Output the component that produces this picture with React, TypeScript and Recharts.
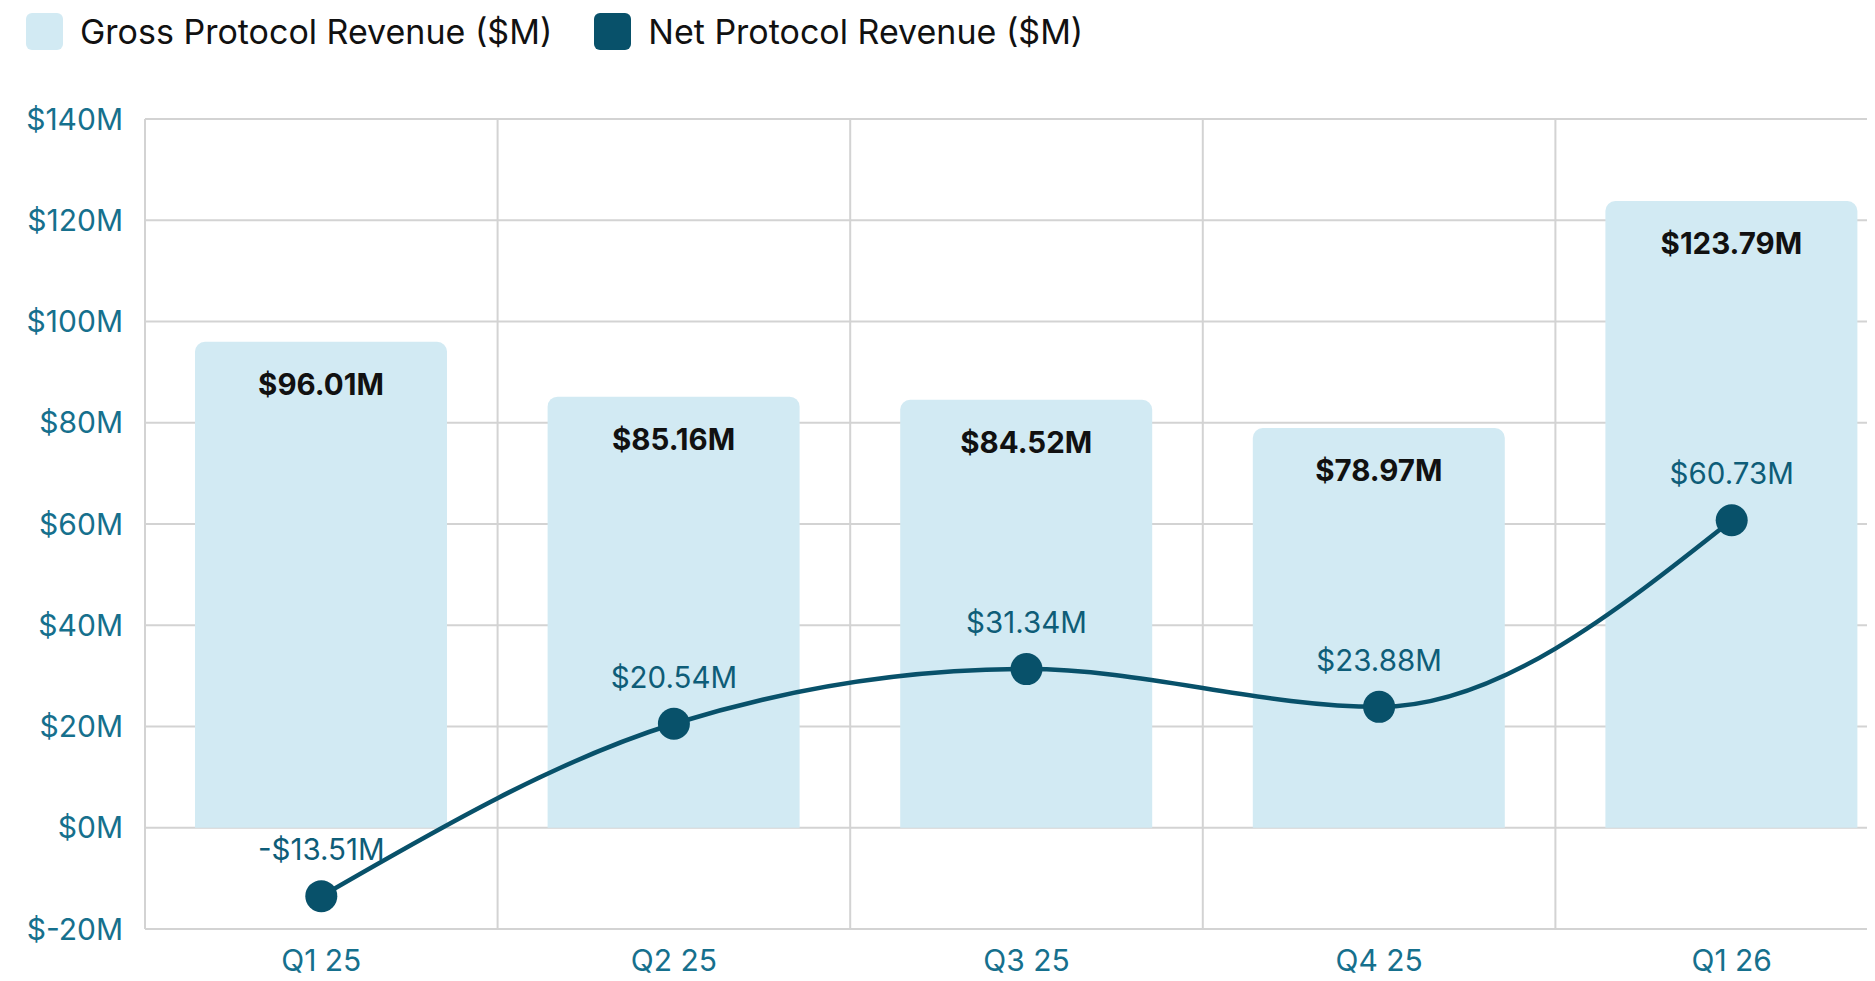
import React from 'react'
import {
  ComposedChart,
  Bar,
  Line,
  XAxis,
  YAxis,
  CartesianGrid,
  Legend,
  LabelList,
} from 'recharts'

const quarters = ['Q1 25', 'Q2 25', 'Q3 25', 'Q4 25', 'Q1 26']
const grossRevenue = [96.01, 85.16, 84.52, 78.97, 123.79]
const netRevenue = [-13.51, 20.54, 31.34, 23.88, 60.73]
const yTicks = [-20, 0, 20, 40, 60, 80, 100, 120, 140]

const GROSS_COLOR = '#d2eaf3'
const NET_COLOR = '#08516a'
const TICK_COLOR = '#16708d'
const GRID_COLOR = '#d3d3d3'
const FONT = 'Inter, "Noto Sans", sans-serif'

const data = quarters.map((q, i) => ({
  name: q,
  gross: grossRevenue[i],
  net: netRevenue[i],
}))

const fmtMoney = (v: number) =>
  v < 0 ? `-$${Math.abs(v).toFixed(2)}M` : `$${v.toFixed(2)}M`

const GrossLabel = (props: any) => {
  const { x, y, width, value } = props
  return (
    <text
      x={x + width / 2}
      y={y + 42}
      textAnchor="middle"
      dominantBaseline="central"
      fontSize={29.5}
      fontWeight={700}
      fill="#111"
      fontFamily={FONT}
    >
      {fmtMoney(value)}
    </text>
  )
}

const NetLabel = (props: any) => {
  const { x, y, value } = props
  return (
    <text
      x={x}
      y={y - 47}
      textAnchor="middle"
      dominantBaseline="central"
      fontSize={29.5}
      fill="#0e5d78"
      fontFamily={FONT}
    >
      {fmtMoney(value)}
    </text>
  )
}

const LegendContent = () => {
  const items = [
    { label: 'Gross Protocol Revenue ($M)', color: GROSS_COLOR },
    { label: 'Net Protocol Revenue ($M)', color: NET_COLOR },
  ]
  return (
    <div
      style={{
        display: 'flex',
        alignItems: 'center',
        height: 60,
        paddingLeft: 18,
        paddingBottom: 13,
        boxSizing: 'border-box',
        fontFamily: FONT,
        fontSize: 34,
        color: '#111',
      }}
    >
      {items.map((it) => (
        <div key={it.label} style={{ display: 'flex', alignItems: 'center', marginRight: 42 }}>
          <span
            style={{
              width: 37,
              height: 37,
              borderRadius: 6,
              background: it.color,
              marginRight: 17,
              display: 'inline-block',
            }}
          />
          <span>{it.label}</span>
        </div>
      ))}
    </div>
  )
}

export default function App() {
  return (
    <div style={{ width: 1867, height: 973, overflow: 'hidden' }}>
      <style>{`html, body { overflow: hidden; }`}</style>
      <ComposedChart
        width={1900}
        height={973}
        data={data}
        margin={{ top: 51, right: 0, bottom: 0, left: 0 }}
      >
        <CartesianGrid
          stroke={GRID_COLOR}
          strokeWidth={2}
          verticalCoordinatesGenerator={({ offset }: any) =>
            quarters.map((_, i) => offset.left + (i * offset.width) / quarters.length)
          }
        />
        <XAxis
          dataKey="name"
          axisLine={false}
          tickLine={false}
          height={52}
          tickMargin={15}
          tick={{ fill: TICK_COLOR, fontSize: 30, fontFamily: FONT }}
        />
        <YAxis
          width={137}
          domain={[-20, 140]}
          ticks={yTicks}
          axisLine={false}
          tickLine={false}
          tickMargin={16}
          tickFormatter={(v: number) => `$${v}M`}
          tick={{ fill: TICK_COLOR, fontSize: 30, fontFamily: FONT }}
        />
        <Legend
          verticalAlign="top"
          align="left"
          height={60}
          wrapperStyle={{ top: 0, left: 0 }}
          content={<LegendContent />}
        />
        <Bar
          dataKey="gross"
          name="Gross Protocol Revenue ($M)"
          fill={GROSS_COLOR}
          barSize={252}
          radius={[10, 10, 0, 0]}
          isAnimationActive={false}
        >
          <LabelList dataKey="gross" content={<GrossLabel />} />
        </Bar>
        <Line
          type="monotone"
          dataKey="net"
          name="Net Protocol Revenue ($M)"
          stroke={NET_COLOR}
          strokeWidth={4.5}
          dot={{ r: 16, fill: NET_COLOR, stroke: 'none' }}
          activeDot={false}
          isAnimationActive={false}
        >
          <LabelList dataKey="net" content={<NetLabel />} />
        </Line>
      </ComposedChart>
    </div>
  )
}
